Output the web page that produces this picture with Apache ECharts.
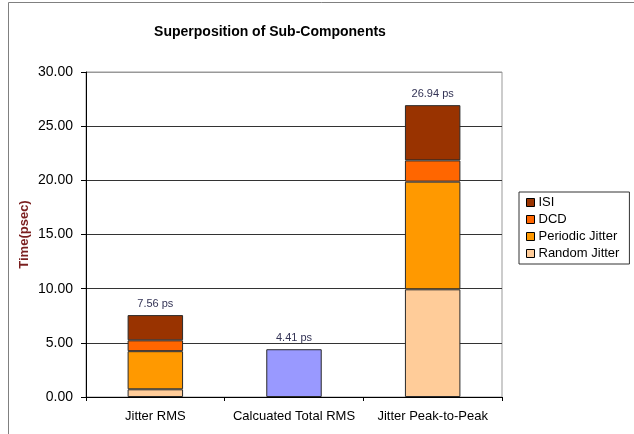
<!DOCTYPE html>
<html>
<head>
<meta charset="utf-8">
<script src="https://cdn.jsdelivr.net/npm/echarts@6/dist/echarts.min.js"></script>
<style>
  html, body { margin: 0; padding: 0; background: #fff; }
  #chart { width: 634px; height: 434px; }
</style>
</head>
<body>
<div id="chart"></div>
<script>
// Jitter sub-components, in picoseconds
const categories = ['Jitter RMS', 'Calcuated Total RMS', 'Jitter Peak-to-Peak'];
const randomJitter = [0.71, '-', 9.94];
const periodicJitter = [3.52, '-', 9.94];
const dcd = [1.00, '-', 1.96];
const isi = [2.33, '-', 5.10];
const totalRms = ['-', 4.41, '-'];
const yTicks = [0, 5, 10, 15, 20, 25, 30];

const num = v => (v === '-' ? 0 : v);
// Height of each stacked column, shown above it
const columnTotals = categories.map((_, i) =>
  num(randomJitter[i]) + num(periodicJitter[i]) + num(dcd[i]) + num(isi[i]) + num(totalRms[i])
);

const font = 'Liberation Sans, Arial, sans-serif';
const barBorder = { borderColor: '#2a2a2a', borderWidth: 1 };

const totalLabel = {
  show: true,
  position: 'top',
  distance: 6,
  fontFamily: font,
  fontSize: 11,
  color: '#333355',
  formatter: p => columnTotals[p.dataIndex].toFixed(2) + ' ps'
};

function stackSeries(name, data, color, withLabel) {
  return {
    name: name,
    type: 'bar',
    stack: 'jitter',
    barWidth: '40%',
    data: data,
    itemStyle: Object.assign({ color: color }, barBorder),
    label: withLabel ? totalLabel : { show: false },
    emphasis: { disabled: true }
  };
}

const chart = echarts.init(document.getElementById('chart'), null, { renderer: 'canvas' });

chart.setOption({
  animation: false,
  backgroundColor: '#fff',
  graphic: [{
    type: 'rect',
    shape: { x: 8.5, y: 2.5, width: 700, height: 500 },
    style: { fill: 'none', stroke: '#808080', lineWidth: 1 },
    silent: true
  }],
  title: {
    text: 'Superposition of Sub-Components',
    left: 265,
    textAlign: 'center',
    top: 20,
    textStyle: { fontFamily: font, fontSize: 14, fontWeight: 'bold', color: '#000' }
  },
  legend: {
    orient: 'vertical',
    left: 519,
    top: 192,
    data: ['ISI', 'DCD', 'Periodic Jitter', 'Random Jitter'],
    icon: 'rect',
    itemWidth: 8,
    itemHeight: 8,
    itemGap: 4,
    padding: [4, 10, 4, 7],
    borderColor: '#333',
    borderWidth: 1,
    selectedMode: false,
    itemStyle: { borderColor: '#000', borderWidth: 1 },
    textStyle: { fontFamily: font, fontSize: 13, color: '#000', padding: [0, 0, 0, -1] }
  },
  grid: {
    left: 86,
    right: 132,
    top: 72,
    bottom: 37,
    show: true,
    borderColor: '#999',
    borderWidth: 1
  },
  xAxis: {
    type: 'category',
    data: categories,
    axisLine: { lineStyle: { color: '#000' } },
    axisTick: { show: true, length: 4, lineStyle: { color: '#000' } },
    axisLabel: { fontFamily: font, fontSize: 13, color: '#000', margin: 13, interval: 0 }
  },
  yAxis: {
    type: 'value',
    min: yTicks[0],
    max: yTicks[yTicks.length - 1],
    interval: 5,
    name: 'Time(psec)',
    nameLocation: 'middle',
    nameGap: 55,
    nameMoveOverlap: false,
    nameTextStyle: { fontFamily: font, fontSize: 13, fontWeight: 'bold', color: '#7a1f1f' },
    axisLine: { show: true, lineStyle: { color: '#000' } },
    axisTick: { show: true, length: 5, lineStyle: { color: '#000' } },
    axisLabel: {
      fontFamily: font, fontSize: 14, color: '#000', margin: 13,
      formatter: v => v.toFixed(2)
    },
    splitLine: {
      show: true,
      lineStyle: { color: ['#333', '#333', '#333', '#333', '#333', '#333', '#999'], width: 1 }
    }
  },
  series: [
    stackSeries('Random Jitter', randomJitter, '#ffcc99', false),
    stackSeries('Periodic Jitter', periodicJitter, '#ff9900', false),
    stackSeries('DCD', dcd, '#ff6600', false),
    stackSeries('ISI', isi, '#993300', true),
    stackSeries('Total RMS', totalRms, '#9999ff', true)
  ]
});
</script>
</body>
</html>
